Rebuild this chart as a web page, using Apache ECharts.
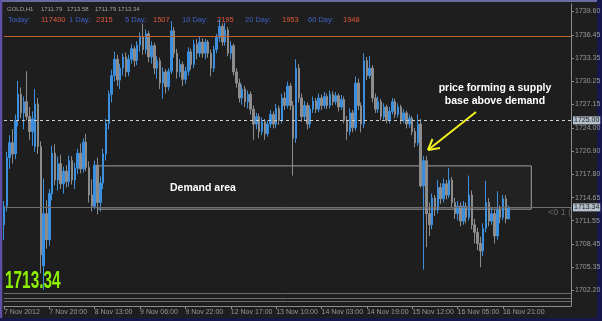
<!DOCTYPE html>
<html><head><meta charset="utf-8">
<script src="https://cdn.jsdelivr.net/npm/echarts@6/dist/echarts.min.js"></script>
<style>html,body{margin:0;padding:0;background:#1e1e1e}#c{width:602px;height:321px}</style>
</head><body><div id="c"></div>
<script>
// ---- data (GOLD H1) ----
const opens = [1711.0,1713.5,1720.0,1722.0,1720.5,1725.0,1728.5,1726.0,1727.5,1725.5,1723.5,1721.5,1727.2,1721.5,1705.5,1712.5,1709.0,1715.2,1720.6,1717.0,
1719.2,1716.5,1718.2,1716.8,1719.6,1717.0,1718.6,1720.6,1718.5,1722.1,1718.7,1715.0,1713.5,1719.0,1714.0,1716.6,1720.5,1724.6,1728.5,1731.0,
1733.2,1730.4,1732.0,1733.5,1731.5,1733.2,1734.6,1733.0,1735.1,1736.2,1734.5,1736.6,1733.5,1735.0,1732.0,1733.0,1730.0,1731.5,1729.5,1731.6,
1737.0,1734.0,1731.5,1732.5,1730.5,1731.6,1734.2,1732.5,1735.2,1734.0,1735.5,1734.0,1735.5,1734.0,1732.0,1734.5,1736.1,1737.6,1735.5,1737.1,
1734.0,1735.0,1731.5,1730.0,1728.0,1729.2,1727.5,1728.5,1726.5,1724.5,1725.5,1723.5,1724.8,1723.2,1724.5,1725.8,1724.5,1726.6,1725.0,1728.0,
1727.0,1729.6,1727.0,1722.6,1732.0,1728.0,1725.5,1727.0,1724.5,1726.5,1727.6,1726.5,1728.0,1727.0,1728.2,1727.0,1728.5,1727.5,1728.3,1726.8,
1727.8,1725.0,1723.5,1726.0,1724.0,1730.0,1727.0,1724.5,1733.0,1731.0,1732.0,1728.0,1726.5,1727.5,1725.5,1726.8,1725.0,1726.2,1727.5,1725.8,
1726.8,1725.0,1726.0,1724.5,1725.3,1723.5,1722.0,1724.5,1716.2,1719.6,1712.5,1711.0,1714.6,1713.0,1716.0,1714.5,1716.5,1715.0,1717.0,1714.0,
1712.5,1713.5,1711.5,1713.5,1712.0,1715.0,1711.0,1710.0,1708.5,1707.5,1710.5,1714.0,1711.5,1712.5,1709.5,1713.0,1712.0,1714.5,1711.79];
const highs = [1714.2,1720.8,1723.0,1723.8,1725.8,1730.3,1729.4,1728.2,1731.6,1726.8,1726.2,1729.2,1728.0,1722.2,1717.2,1714.3,1715.8,1721.6,1721.8,1720.2,
1720.4,1718.8,1719.0,1720.3,1720.2,1719.3,1721.2,1721.9,1722.6,1723.2,1719.5,1717.1,1719.6,1720.0,1717.5,1721.2,1725.2,1729.0,1731.8,1734.2,
1733.8,1732.6,1734.0,1734.1,1733.8,1735.2,1735.0,1735.6,1736.8,1737.9,1737.2,1737.0,1735.6,1735.4,1733.6,1733.4,1732.1,1731.9,1732.0,1738.3,
1737.5,1734.6,1733.2,1732.9,1732.2,1734.8,1734.6,1735.8,1735.9,1736.2,1736.0,1735.9,1735.8,1734.5,1735.0,1736.6,1738.6,1738.0,1738.1,1737.5,
1735.6,1735.3,1732.0,1730.6,1729.8,1729.6,1729.0,1728.9,1727.0,1726.0,1725.9,1725.4,1725.2,1725.0,1726.4,1726.2,1727.2,1727.0,1728.6,1728.8,
1730.2,1730.0,1727.6,1733.2,1732.6,1728.6,1727.6,1727.4,1727.0,1728.2,1728.0,1728.6,1728.5,1728.8,1728.6,1729.0,1728.9,1728.8,1728.6,1728.4,
1728.2,1725.6,1726.6,1726.4,1730.9,1730.6,1727.4,1734.0,1733.5,1733.6,1732.4,1728.6,1728.2,1727.9,1727.3,1727.1,1726.8,1728.0,1727.9,1727.3,
1727.1,1726.5,1726.3,1725.8,1725.6,1724.0,1725.8,1725.2,1720.2,1720.2,1714.0,1715.2,1715.0,1717.0,1716.6,1717.2,1717.0,1718.6,1717.4,1714.6,
1714.2,1714.0,1714.2,1714.0,1717.6,1715.6,1711.8,1710.6,1709.4,1711.2,1716.9,1714.6,1713.4,1713.0,1715.5,1713.6,1715.0,1715.0,1713.58];
const lows = [1709.0,1712.8,1718.5,1719.2,1719.8,1724.2,1725.3,1723.8,1725.0,1722.4,1721.6,1720.8,1720.5,1704.5,1702.3,1707.8,1708.2,1714.3,1716.3,1715.6,
1715.8,1715.2,1716.0,1716.1,1716.4,1715.8,1717.8,1717.9,1718.0,1718.2,1714.0,1712.8,1713.1,1712.4,1712.8,1715.8,1719.6,1723.8,1727.4,1730.2,
1729.6,1729.2,1731.0,1730.8,1730.9,1732.6,1732.2,1732.4,1734.2,1733.8,1733.9,1732.8,1732.6,1731.2,1730.6,1729.2,1727.9,1728.6,1729.0,1731.2,
1733.4,1730.6,1730.8,1729.6,1729.9,1731.0,1731.8,1732.0,1733.2,1733.5,1733.4,1733.2,1733.4,1730.9,1731.5,1734.0,1735.5,1735.0,1735.0,1733.6,
1733.2,1731.0,1729.4,1727.4,1727.1,1726.8,1726.6,1725.8,1722.4,1723.8,1722.6,1723.0,1722.4,1722.8,1724.0,1723.9,1724.0,1724.4,1724.6,1726.4,
1726.6,1726.4,1717.6,1722.0,1727.4,1724.8,1725.0,1723.8,1724.0,1726.0,1726.0,1726.1,1726.4,1726.6,1726.5,1726.6,1727.0,1727.1,1726.2,1726.4,
1724.6,1722.4,1723.0,1723.4,1723.6,1726.4,1723.4,1724.0,1730.4,1730.6,1727.4,1726.0,1726.0,1725.0,1725.1,1724.6,1724.6,1725.8,1725.3,1725.4,
1724.5,1724.6,1723.9,1724.0,1723.0,1721.4,1721.6,1716.0,1705.0,1708.0,1709.5,1710.4,1712.2,1712.5,1713.8,1714.0,1714.4,1714.6,1713.4,1711.8,
1711.6,1710.8,1711.0,1711.2,1711.6,1710.4,1708.5,1707.6,1705.3,1706.8,1710.0,1710.8,1711.0,1708.5,1709.0,1711.2,1711.6,1711.2,1711.79];
const closes = [1713.5,1720.0,1722.0,1720.5,1725.0,1728.5,1726.0,1727.5,1725.5,1723.5,1725.2,1727.2,1721.5,1707.0,1712.5,1709.0,1715.2,1720.6,1717.0,1719.2,
1716.5,1718.2,1716.8,1719.6,1717.0,1718.6,1720.6,1718.5,1722.1,1718.7,1715.0,1713.5,1719.0,1714.0,1716.6,1720.5,1724.6,1728.5,1731.0,1733.2,
1730.4,1732.0,1733.5,1731.5,1733.2,1734.6,1733.0,1735.1,1736.2,1734.5,1736.6,1733.5,1735.0,1732.0,1733.0,1730.0,1731.5,1729.5,1731.6,1737.0,
1734.0,1731.5,1732.5,1730.5,1731.6,1734.2,1732.5,1735.2,1734.0,1735.5,1734.0,1735.5,1734.0,1732.0,1734.5,1736.1,1737.6,1735.5,1737.1,1734.0,
1735.0,1731.5,1730.0,1728.0,1729.2,1727.5,1728.5,1726.5,1724.5,1725.5,1723.5,1724.8,1723.2,1724.5,1725.8,1724.5,1726.6,1725.0,1728.0,1727.0,
1729.6,1727.0,1722.6,1732.0,1728.0,1725.5,1727.0,1724.5,1726.5,1727.6,1726.5,1728.0,1727.0,1728.2,1727.0,1728.5,1727.5,1728.3,1726.8,1727.8,
1725.0,1723.5,1726.0,1724.0,1730.0,1727.0,1724.5,1733.0,1731.0,1732.0,1728.0,1726.5,1727.5,1725.5,1726.8,1725.0,1726.2,1727.5,1725.8,1726.8,
1725.0,1726.0,1724.5,1725.3,1723.5,1722.0,1724.5,1716.2,1719.6,1712.5,1711.0,1714.6,1713.0,1716.0,1714.5,1716.5,1715.0,1717.0,1714.0,1712.5,
1713.5,1711.5,1713.5,1712.0,1715.0,1711.0,1710.0,1708.5,1707.5,1710.5,1714.0,1711.5,1712.5,1709.5,1713.0,1712.0,1714.5,1711.8,1713.34];

const slotCount = 201; // hourly slots shown, incl. empty right margin
const categories = Array.from({length: slotCount}, (_, i) => String(i));
const tickLabels = ['7 Nov 2012','7 Nov 20:00','8 Nov 13:00','9 Nov 06:00','9 Nov 22:00','12 Nov 17:00','13 Nov 10:00','14 Nov 03:00','14 Nov 19:00','15 Nov 12:00','16 Nov 05:00','16 Nov 21:00'];
const tickEvery = 16;
const yTicks = [1739.60,1736.45,1733.35,1730.25,1727.15,1724.00,1720.90,1717.80,1714.65,1711.55,1708.45,1705.35,1702.20];

const volLabels = ['Today:','1 Day:','5 Day:','10 Day:','20 Day:','60 Day:'];
const volValues = [117400, 2315, 1507, 2195, 1953, 1948];

const resistanceLevel = 1736.35;
const dashedLevel = 1725.00;
const demandZone = {fromIdx: 33, toIdx: 186, top: 1718.9, bottom: 1713.1};

// ---- chart ----
const last = closes.length - 1;
const ohlc = opens.map((o, i) => [o, closes[i], lows[i], highs[i]]);
const chart = echarts.init(document.getElementById('c'), null, {renderer: 'canvas'});
const F = 'Liberation Sans, Arial, sans-serif';

const g = [];
// header line 1
const hdr1 = ['GOLD,H1', opens[last].toFixed(2), highs[last].toFixed(2), lows[last].toFixed(2), closes[last].toFixed(2)];
const hdr1X = [7, 41, 67, 95, 118];
hdr1.forEach((t, i) => g.push({type:'text', x: hdr1X[i], y: 9, style:{text:t, fill:'#a0a0a0', font:'6px ' + F, verticalAlign:'middle'}}));
// header line 2
const lblX = [8, 69, 125, 182, 245, 308];
const valX = [41, 96, 153, 217, 282, 343];
volLabels.forEach((t, i) => {
  g.push({type:'text', x: lblX[i], y: 20, style:{text:t, fill:'#3f62c8', font:'7.5px ' + F, verticalAlign:'middle'}});
  g.push({type:'text', x: valX[i], y: 20, style:{text:String(volValues[i]), fill:'#e2583a', font:'7.5px ' + F, verticalAlign:'middle'}});
});
// big price
g.push({type:'text', x: 5, y: 281.5, scaleX: 0.64, style:{text: closes[last].toFixed(2), fill:'#8cf000', font:'bold 24px ' + F, verticalAlign:'middle'}});
// annotations
g.push({type:'text', x: 170, y: 188, style:{text:'Demand area', fill:'#ffffff', font:'bold 10.5px ' + F, verticalAlign:'middle'}});
g.push({type:'text', x: 495, y: 88, style:{text:'price forming a supply', fill:'#ffffff', font:'bold 10.5px ' + F, align:'center', verticalAlign:'middle'}});
g.push({type:'text', x: 495, y: 101, style:{text:'base above demand', fill:'#ffffff', font:'bold 10.5px ' + F, align:'center', verticalAlign:'middle'}});
g.push({type:'text', x: 548, y: 213, style:{text:'<0 1 (', fill:'#666666', font:'9px ' + F, verticalAlign:'middle'}});
// arrow
const AR = {stroke:'#f2f21e', lineWidth:2};
g.push({type:'line', shape:{x1:476, y1:112, x2:428, y2:150}, style:AR});
g.push({type:'line', shape:{x1:428, y1:150, x2:440, y2:148}, style:AR});
g.push({type:'line', shape:{x1:428, y1:150, x2:432.5, y2:139}, style:AR});
// bottom separators
[293.5, 298.5, 301.5].forEach(y => g.push({type:'line', shape:{x1:4, y1:y, x2:571, y2:y}, style:{stroke:'#6c6c6c', lineWidth:1}}));
// window frame
g.push({type:'line', shape:{x1:0, y1:1, x2:602, y2:1}, style:{stroke:'#6a6aa2', lineWidth:2}});
g.push({type:'line', shape:{x1:1, y1:0, x2:1, y2:321}, style:{stroke:'#5f4fa8', lineWidth:2.5}});
g.push({type:'line', shape:{x1:599.5, y1:0, x2:599.5, y2:321}, style:{stroke:'#17174e', lineWidth:5}});
g.push({type:'line', shape:{x1:0, y1:319.5, x2:602, y2:319.5}, style:{stroke:'#17174e', lineWidth:3}});

const axisLabelBox = (txt) => ({show:true, position:'end', distance:2, formatter: txt, color:'#1a1a1a', backgroundColor:'#b4c0cc', padding:[1,1,0,1], fontSize:7, fontFamily:F});
const showTick = (i) => i % tickEvery === 0 && i / tickEvery < tickLabels.length;

chart.setOption({
  animation: false,
  backgroundColor: '#1e1e1e',
  grid: {left: 4, right: 31, top: 4, bottom: 15, containLabel: false, outerBoundsMode: 'none'},
  xAxis: {
    type: 'category', data: categories, boundaryGap: false,
    axisLine: {show: true, lineStyle: {color: '#8c8c8c'}},
    axisTick: {show: true, length: 3, interval: showTick, lineStyle: {color: '#8c8c8c'}},
    axisLabel: {interval: showTick,
      align: 'left', margin: 3, color: '#9a9a9a', fontSize: 7, fontFamily: F,
      formatter: (v, i) => tickLabels[i / tickEvery] || ''},
    splitLine: {show: false}
  },
  yAxis: {
    type: 'value', position: 'right', min: 1700.12, max: 1740.6, scale: true,
    axisLine: {show: true, lineStyle: {color: '#8c8c8c'}},
    axisTick: {show: true, length: 3, customValues: yTicks, lineStyle: {color: '#8c8c8c'}},
    axisLabel: {customValues: yTicks, formatter: (v) => v.toFixed(2), color: '#9a9a9a', fontSize: 7, fontFamily: F, margin: 4},
    splitLine: {show: false}
  },
  series: [{
    type: 'candlestick', data: ohlc, barWidth: 2, clip: true,
    itemStyle: {color: '#3c8fdc', color0: '#8c8c8c', borderColor: '#3c8fdc', borderColor0: '#8c8c8c', borderWidth: 1},
    markArea: {silent: true, itemStyle: {color: 'rgba(255,255,255,0.02)', borderColor: '#a2a2a2', borderWidth: 1},
      data: [[{xAxis: demandZone.fromIdx, yAxis: demandZone.top}, {xAxis: demandZone.toIdx, yAxis: demandZone.bottom}]]},
    markLine: {silent: true, symbol: 'none', animation: false, data: [
      {yAxis: dashedLevel, lineStyle: {color: '#cfcfcf', width: 1, type: [3, 3]}, label: axisLabelBox(dashedLevel.toFixed(2))},
      {yAxis: closes[last], lineStyle: {color: '#707070', width: 1, type: 'solid'}, label: axisLabelBox(closes[last].toFixed(2))}
    ]}
  }],
  graphic: {elements: g}
});

// resistance level line, positioned through the value axis
const yRes = Math.round(chart.convertToPixel({yAxisIndex: 0}, resistanceLevel)) + 0.5;
const xL = chart.convertToPixel({xAxisIndex: 0}, 0);
const xR = chart.convertToPixel({xAxisIndex: 0}, slotCount - 1);
g.push({type:'line', shape:{x1:xL, y1:yRes, x2:xR, y2:yRes}, style:{stroke:'#c0602c', lineWidth:1}, z:5});
chart.setOption({graphic: {elements: g}});
</script></body></html>
